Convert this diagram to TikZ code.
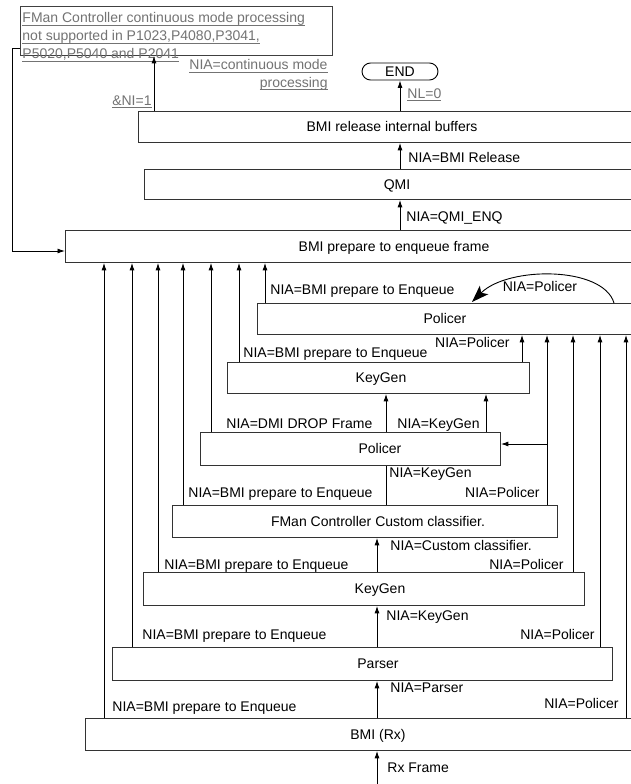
\documentclass[tikz,border=0pt]{standalone}
\usepackage{fontspec}
\setmainfont{Liberation Sans}
\usetikzlibrary{arrows.meta}
\newcommand\ulx[1]{\setbox0=\hbox{#1}\rlap{\rule[-3pt]{\wd0}{0.8pt}}\box0}
\begin{document}
\begin{tikzpicture}[x=1pt,y=-1pt,font=\fontsize{14}{16}\selectfont,line width=0.9pt,
  box/.style={draw=black!80,rectangle,inner sep=0pt,anchor=north west},
  lbl/.style={inner sep=0pt,anchor=base west},
  lble/.style={inner sep=0pt,anchor=base east},
  btxt/.style={inner sep=0pt,anchor=base},
  glbl/.style={inner sep=0pt,anchor=base west,text=black!55},
  glble/.style={inner sep=0pt,anchor=base east,text=black!55},
  arr/.style={draw=black,-{Latex[length=7.5pt,width=5pt]}},
  ln/.style={draw=black},
  bigarr/.style={draw=black,-{Stealth[length=17pt,width=12pt,inset=4pt]}}]
\useasboundingbox (0,0) rectangle (631,784);
\clip (0,0) rectangle (631,784);
\fill[white] (0,0) rectangle (631,784);

% column coordinates
\foreach \n/\x in {a/104,b/132,c/158,d/183,e/211,f/239,g/265,ra/522,rb/547,rc/573,rd/600,re/626,m/377,t/400,ka/386,kb/486,n/154,arc/614}
  \coordinate (x\n) at (\x,0);

% note
\node[box,draw=black!75,minimum width=312pt,minimum height=49pt] (note) at (20,6) {};
\node[glbl] (note1) at (22,23) {\ulx{FMan Controller continuous mode processing}};
\node[glbl] (note2) at (22,41) {\ulx{not supported in P1023,P4080,P3041,}};
\node[glbl] (note3) at (22,59) {\ulx{P5020,P5040 and P2041}};
\node[glble] (cont1) at (328,70) {\ulx{NIA=continuous mode}};
\node[glble] (cont2) at (328,87) {\ulx{processing}};
\node[glble] (ni) at (152,105) {\ulx{\&NI=1}};

% END
\node[draw=black,rounded corners=8.5pt,minimum width=76pt,minimum height=17pt,inner sep=0pt] (endn) at (400,71.5) {END};
\node[glbl] (nl) at (407,98) {\ulx{NL=0}};

% boxes
\node[box,minimum width=508pt,minimum height=31pt] (rel) at (138,111) {};
\node[box,minimum width=506pt,minimum height=30pt] (qmi) at (144,169) {};
\node[box,minimum width=658pt,minimum height=32pt] (prep) at (65,230) {};
\node[box,minimum width=376pt,minimum height=31pt] (polT) at (257,303) {};
\node[box,minimum width=302pt,minimum height=31pt] (kgU) at (227,362) {};
\node[box,minimum width=300pt,minimum height=33pt] (polM) at (200,432) {};
\node[box,minimum width=385pt,minimum height=32pt] (fman) at (172,505) {};
\node[box,minimum width=441pt,minimum height=33pt] (kgL) at (143,572) {};
\node[box,minimum width=500pt,minimum height=33pt] (parser) at (112,647) {};
\node[box,minimum width=586pt,minimum height=32pt] (rx) at (85,718) {};

% box texts
\node[btxt] (relT) at (392,131.5) {BMI release internal buffers};
\node[btxt] (qmiT) at (397,189) {QMI};
\node[btxt] (prepT) at (394,251) {BMI prepare to enqueue frame};
\node[btxt] (polTT) at (445,323.5) {Policer};
\node[btxt] (kgUT) at (381,382.5) {KeyGen};
\node[btxt] (polMT) at (380,453.5) {Policer};
\node[btxt] (fmanT) at (378,526) {FMan Controller Custom classifier.};
\node[btxt] (kgLT) at (380,593.5) {KeyGen};
\node[btxt] (parserT) at (378,668.5) {Parser};
\node[btxt] (rxT) at (378,739) {BMI (Rx)};

% feed line from note to prepare
\coordinate (fs) at (20,48);
\coordinate (fc) at (12,251);
\draw[arr] (fs) -| (fc) -- (prep.west |- fc);

% top chain
\draw[arr] (rel.north -| xn) -- (note.south -| xn);
\draw[arr] (rel.north -| xt) -- (endn.south);
\draw[arr] (qmi.north -| xt) -- (rel.south -| xt);
\node[lbl] (l1) at (408,162) {NIA=BMI Release};
\draw[arr] (prep.north -| xt) -- (qmi.south -| xt);
\node[lbl] (l2) at (406,221) {NIA=QMI\_ENQ};

% left returns to prepare
\draw[arr] (rx.north -| xa) -- (prep.south -| xa);
\node[lbl] (l3) at (112,711) {NIA=BMI prepare to Enqueue};
\draw[arr] (parser.north -| xb) -- (prep.south -| xb);
\node[lbl] (l4) at (142,639) {NIA=BMI prepare to Enqueue};
\draw[arr] (kgL.north -| xc) -- (prep.south -| xc);
\node[lbl] (l5) at (164,569) {NIA=BMI prepare to Enqueue};
\draw[arr] (fman.north -| xd) -- (prep.south -| xd);
\node[lbl] (l6) at (188,497) {NIA=BMI prepare to Enqueue};
\draw[arr] (polM.north -| xe) -- (prep.south -| xe);
\node[lbl] (l7) at (226,428) {NIA=DMI DROP Frame};
\draw[arr] (kgU.north -| xf) -- (prep.south -| xf);
\node[lbl] (l8) at (243,357) {NIA=BMI prepare to Enqueue};
\draw[arr] (polT.north -| xg) -- (prep.south -| xg);
\node[lbl] (l9) at (270,294) {NIA=BMI prepare to Enqueue};

% right returns to policer
\draw[arr] (kgU.north -| xra) -- (polT.south -| xra);
\node[lble] (r1) at (510,347) {NIA=Policer};
\draw[arr] (fman.north -| xrb) -- (polT.south -| xrb);
\node[lble] (r2) at (540,497) {NIA=Policer};
\coordinate (br) at (547,444);
\draw[arr] (br) -- (polM.east |- br);
\draw[arr] (kgL.north -| xrc) -- (polT.south -| xrc);
\node[lble] (r3) at (564,569) {NIA=Policer};
\draw[arr] (parser.north -| xrd) -- (polT.south -| xrd);
\node[lble] (r4) at (595,639) {NIA=Policer};
\draw[arr] (rx.north -| xre) -- (polT.south -| xre);
\node[lble] (r5) at (619,708) {NIA=Policer};

% policer loop
\coordinate (arcend) at (472,302);
\draw[bigarr] (polT.north -| xarc) .. controls (603,266) and (508,266) .. (arcend);
\node[btxt] (arcl) at (540,291) {NIA=Policer};

% middle chain
\draw[arr] (polM.north -| xka) -- (kgU.south -| xka);
\node[lbl] (k1) at (397,428) {NIA=KeyGen};
\draw[arr] (polM.north -| xkb) -- (kgU.south -| xkb);
\draw[ln] (fman.north -| xka) -- (polM.south -| xka);
\node[lbl] (k2) at (389,477) {NIA=KeyGen};
\draw[arr] (kgL.north -| xm) -- (fman.south -| xm);
\node[lbl] (k3) at (390,550) {NIA=Custom classifier.};
\draw[arr] (parser.north -| xm) -- (kgL.south -| xm);
\node[lbl] (k4) at (386,620) {NIA=KeyGen};
\draw[arr] (rx.north -| xm) -- (parser.south -| xm);
\node[lbl] (k5) at (390,692) {NIA=Parser};
\coordinate (rxin) at (377,784);
\draw[arr] (rxin) -- (rx.south -| rxin);
\node[lbl] (k6) at (387,772) {Rx Frame};
\end{tikzpicture}
\end{document}
